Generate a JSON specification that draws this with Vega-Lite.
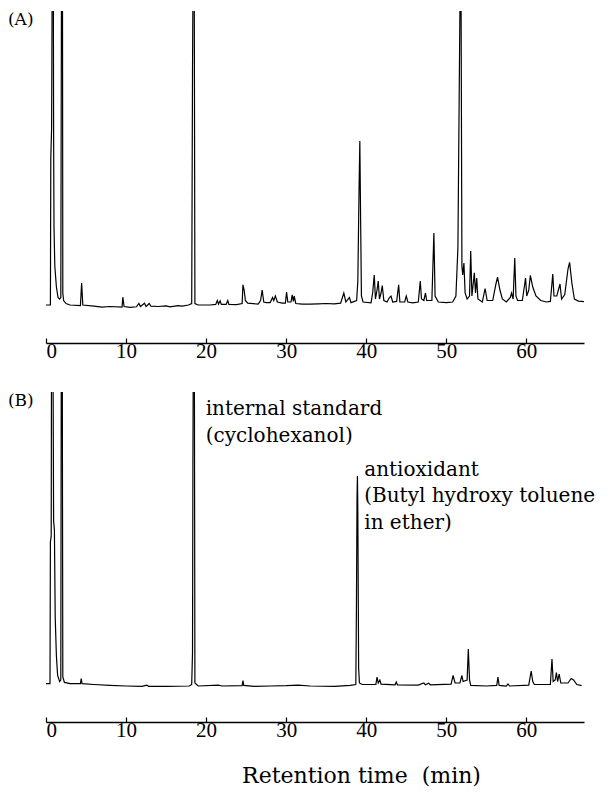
{
  "$schema": "https://vega.github.io/schema/vega-lite/v6.json",
  "padding": {"left": 7, "top": 11, "right": 5, "bottom": 5},
  "background": "white",
  "config": {"view": {"stroke": null}, "font": "Liberation Serif", "concat": {"spacing": 30}},
  "datasets": {
    "A": [
      {"t":0,"v":2},{"t":0.55,"v":2},{"t":0.6,"v":51},{"t":0.7,"v":61},{"t":0.8,"v":130},{"t":0.9,"v":130},{"t":0.95,"v":60},{"t":1.0,"v":28},{"t":1.1,"v":15},{"t":1.3,"v":8},{"t":1.5,"v":4.5},{"t":1.7,"v":4},{"t":1.85,"v":4.5},{"t":1.95,"v":130},{"t":2.05,"v":130},{"t":2.1,"v":6},{"t":2.2,"v":3.5},{"t":2.5,"v":2.5},{"t":3,"v":2},{"t":4.3,"v":1.8},{"t":4.45,"v":9.3},{"t":4.6,"v":2},{"t":6,"v":1.6},{"t":7,"v":1.3},{"t":8,"v":1.5},{"t":9.5,"v":1.3},{"t":9.6,"v":4.6},{"t":9.75,"v":1.5},{"t":10.5,"v":1.2},{"t":11.3,"v":1.4},{"t":11.6,"v":2.5},{"t":11.8,"v":1.5},{"t":12.3,"v":2.6},{"t":12.5,"v":1.5},{"t":12.9,"v":2.5},{"t":13.1,"v":1.6},{"t":14,"v":1.5},{"t":15,"v":1.7},{"t":15.5,"v":1.4},{"t":16.5,"v":1.8},{"t":17,"v":1.6},{"t":17.8,"v":2},{"t":18.2,"v":2.5},{"t":18.3,"v":79},{"t":18.4,"v":130},{"t":18.5,"v":130},{"t":18.6,"v":2.5},{"t":19,"v":2},{"t":20.5,"v":2},{"t":21.2,"v":2.2},{"t":21.4,"v":3.5},{"t":21.55,"v":2.3},{"t":21.75,"v":3.4},{"t":21.9,"v":2.2},{"t":22.5,"v":2.2},{"t":22.7,"v":3.5},{"t":22.85,"v":2.2},{"t":23.8,"v":2.1},{"t":24.5,"v":2.5},{"t":24.6,"v":8.7},{"t":24.75,"v":7},{"t":24.9,"v":3.5},{"t":25.2,"v":2.6},{"t":26.5,"v":2.3},{"t":26.8,"v":3.5},{"t":27.0,"v":7},{"t":27.2,"v":3},{"t":27.5,"v":2.8},{"t":28.0,"v":2.8},{"t":28.3,"v":4.5},{"t":28.45,"v":3.5},{"t":28.65,"v":5},{"t":28.9,"v":3},{"t":29.5,"v":2.6},{"t":29.9,"v":2.6},{"t":30.05,"v":6.3},{"t":30.2,"v":3},{"t":30.6,"v":3},{"t":30.75,"v":5.4},{"t":30.9,"v":3.2},{"t":31.0,"v":5},{"t":31.2,"v":2.5},{"t":32,"v":2.3},{"t":33,"v":2.3},{"t":34,"v":2.4},{"t":35,"v":2.5},{"t":36,"v":2.4},{"t":36.8,"v":2.6},{"t":37.2,"v":6},{"t":37.45,"v":3},{"t":37.9,"v":4.5},{"t":38.1,"v":2.8},{"t":38.8,"v":3.5},{"t":38.95,"v":10},{"t":39.1,"v":40},{"t":39.2,"v":56.7},{"t":39.3,"v":30},{"t":39.4,"v":5},{"t":39.6,"v":3},{"t":40.6,"v":2.7},{"t":40.8,"v":6},{"t":41.0,"v":12},{"t":41.15,"v":4},{"t":41.35,"v":7},{"t":41.5,"v":10},{"t":41.65,"v":4},{"t":41.85,"v":6},{"t":42.0,"v":8.5},{"t":42.2,"v":3.5},{"t":42.6,"v":3},{"t":42.9,"v":4.5},{"t":43.1,"v":5},{"t":43.3,"v":3},{"t":43.8,"v":3.2},{"t":44.05,"v":8.7},{"t":44.2,"v":3},{"t":44.8,"v":3},{"t":45.0,"v":5},{"t":45.2,"v":3},{"t":45.8,"v":2.7},{"t":46.5,"v":3},{"t":46.75,"v":10},{"t":46.9,"v":4},{"t":47.2,"v":3.5},{"t":47.4,"v":6},{"t":47.55,"v":3.5},{"t":48.2,"v":3.5},{"t":48.45,"v":26},{"t":48.6,"v":5},{"t":49,"v":3},{"t":50,"v":2.8},{"t":50.8,"v":3},{"t":51.2,"v":5},{"t":51.45,"v":21},{"t":51.7,"v":100},{"t":51.85,"v":100},{"t":51.95,"v":15},{"t":52.05,"v":12},{"t":52.2,"v":16},{"t":52.35,"v":6},{"t":52.6,"v":4},{"t":52.9,"v":5},{"t":53.05,"v":20},{"t":53.2,"v":5},{"t":53.4,"v":10},{"t":53.5,"v":12.7},{"t":53.65,"v":6},{"t":53.8,"v":11},{"t":53.95,"v":4},{"t":54.5,"v":3},{"t":54.85,"v":7.5},{"t":55.1,"v":3.5},{"t":55.8,"v":3.5},{"t":56.2,"v":9},{"t":56.4,"v":11.3},{"t":56.7,"v":7},{"t":57.0,"v":4},{"t":57.5,"v":3},{"t":58.0,"v":4.5},{"t":58.15,"v":6},{"t":58.35,"v":4},{"t":58.55,"v":17.7},{"t":58.7,"v":5},{"t":58.9,"v":3.5},{"t":59.5,"v":3.5},{"t":59.9,"v":11},{"t":60.05,"v":5},{"t":60.3,"v":7},{"t":60.5,"v":11.9},{"t":60.8,"v":8},{"t":61.2,"v":5},{"t":61.8,"v":3.5},{"t":62.5,"v":3},{"t":63.0,"v":3.2},{"t":63.3,"v":12.3},{"t":63.45,"v":5},{"t":63.8,"v":5},{"t":64.2,"v":9},{"t":64.4,"v":4},{"t":64.8,"v":5.5},{"t":65.2,"v":14},{"t":65.4,"v":16.2},{"t":65.7,"v":9},{"t":66.0,"v":4},{"t":66.5,"v":3.3},{"t":67.2,"v":3.1}
    ],
    "B": [
      {"t":0,"v":2.8},{"t":0.5,"v":2.8},{"t":0.55,"v":50},{"t":0.65,"v":52},{"t":0.7,"v":130},{"t":0.85,"v":130},{"t":0.95,"v":57},{"t":1.05,"v":54},{"t":1.15,"v":25},{"t":1.3,"v":12},{"t":1.45,"v":5.5},{"t":1.7,"v":3.5},{"t":1.85,"v":4},{"t":1.92,"v":130},{"t":2.02,"v":130},{"t":2.1,"v":5},{"t":2.3,"v":3.2},{"t":3,"v":2.8},{"t":4.3,"v":2.8},{"t":4.4,"v":4.5},{"t":4.5,"v":2.8},{"t":6,"v":2.5},{"t":8,"v":2.2},{"t":10,"v":2},{"t":12,"v":1.9},{"t":12.6,"v":2.3},{"t":12.8,"v":1.9},{"t":15,"v":1.9},{"t":17.9,"v":2},{"t":18.2,"v":2.5},{"t":18.3,"v":13},{"t":18.35,"v":75},{"t":18.42,"v":130},{"t":18.52,"v":130},{"t":18.6,"v":3},{"t":19,"v":2},{"t":21.5,"v":2.3},{"t":22,"v":2},{"t":24.5,"v":2.1},{"t":24.6,"v":3.8},{"t":24.7,"v":2.2},{"t":26,"v":1.9},{"t":28,"v":2},{"t":30,"v":2.1},{"t":31.5,"v":2.3},{"t":33,"v":2},{"t":36,"v":1.9},{"t":38.0,"v":2.2},{"t":38.7,"v":2.5},{"t":38.78,"v":30},{"t":38.85,"v":65},{"t":38.9,"v":72},{"t":38.95,"v":60},{"t":39.05,"v":8},{"t":39.15,"v":3},{"t":39.5,"v":2.5},{"t":41.2,"v":2.5},{"t":41.35,"v":5},{"t":41.5,"v":3},{"t":41.7,"v":4},{"t":41.85,"v":2.6},{"t":43.6,"v":2.4},{"t":43.75,"v":3.3},{"t":43.9,"v":2.4},{"t":46.5,"v":2.3},{"t":47.2,"v":3},{"t":47.4,"v":2.4},{"t":47.8,"v":2.9},{"t":48,"v":2.4},{"t":50.6,"v":2.6},{"t":50.85,"v":5.5},{"t":51.1,"v":3},{"t":51.7,"v":3},{"t":51.95,"v":5.5},{"t":52.1,"v":3.5},{"t":52.6,"v":4},{"t":52.75,"v":14.3},{"t":52.9,"v":4},{"t":53.05,"v":2.2},{"t":55,"v":2},{"t":56.3,"v":2.2},{"t":56.45,"v":5},{"t":56.6,"v":2.2},{"t":57.5,"v":2},{"t":57.7,"v":2.7},{"t":57.9,"v":2},{"t":60.3,"v":2.3},{"t":60.6,"v":7},{"t":60.8,"v":3.5},{"t":61,"v":2.5},{"t":63.0,"v":2.5},{"t":63.2,"v":11},{"t":63.35,"v":3.5},{"t":63.6,"v":4},{"t":63.75,"v":6.5},{"t":63.9,"v":3.5},{"t":64.1,"v":6},{"t":64.3,"v":3},{"t":65.2,"v":3},{"t":65.6,"v":4.5},{"t":65.9,"v":4},{"t":66.3,"v":2.5},{"t":66.9,"v":2.1}
    ],
    "tagA": [{"t": -4.75, "v": 99.6, "label": "(A)"}],
    "tagB": [{"t": -4.75, "v": 99.8, "label": "(B)"}],
    "notes": [
      {"t": 19.95, "v": 92.3, "label": "internal standard\n(cyclohexanol)"},
      {"t": 39.75, "v": 72.1, "label": "antioxidant\n(Butyl hydroxy toluene\nin ether)"}
    ]
  },
  "vconcat": [
    {
      "width": 538,
      "height": 300,
      "layer": [
        {
          "data": {"name": "A"},
          "mark": {"type": "line", "clip": true, "color": "black", "strokeWidth": 1.2},
          "encoding": {
            "x": {"field": "t", "type": "quantitative", "scale": {"domain": [0, 67.2], "nice": false, "zero": false},
              "axis": {"values": [0, 10, 20, 30, 40, 50, 60], "title": null, "offset": 32, "grid": false, "domainColor": "black", "domainWidth": 1.3, "tickColor": "black", "tickSize": -5, "tickWidth": 1.2, "labelFontSize": 21, "labelFont": "Liberation Serif", "labelColor": "black", "labelPadding": 2}},
            "y": {"field": "v", "type": "quantitative", "scale": {"domain": [0, 100], "nice": false, "zero": false}, "axis": null}
          }
        },
        {
          "data": {"name": "tagA"},
          "mark": {"type": "text", "align": "left", "baseline": "top", "font": "DejaVu Serif", "fontSize": 17, "color": "black"},
          "encoding": {
            "x": {"field": "t", "type": "quantitative", "scale": {"domain": [0, 67.2], "nice": false, "zero": false}},
            "y": {"field": "v", "type": "quantitative", "scale": {"domain": [0, 100], "nice": false, "zero": false}},
            "text": {"field": "label"}
          }
        }
      ]
    },
    {
      "width": 538,
      "height": 300,
      "layer": [
        {
          "data": {"name": "B"},
          "mark": {"type": "line", "clip": true, "color": "black", "strokeWidth": 1.2},
          "encoding": {
            "x": {"field": "t", "type": "quantitative", "scale": {"domain": [0, 67.2], "nice": false, "zero": false},
              "axis": {"values": [0, 10, 20, 30, 40, 50, 60], "title": "Retention time\u00a0 (min)", "titleX": 315, "titleAlign": "center", "titleFont": "DejaVu Serif", "titleFontSize": 22, "titleFontWeight": "normal", "titleColor": "black", "titlePadding": 25, "offset": 30, "grid": false, "domainColor": "black", "domainWidth": 1.3, "tickColor": "black", "tickSize": -5, "tickWidth": 1.2, "labelFontSize": 21, "labelFont": "Liberation Serif", "labelColor": "black", "labelPadding": 2}},
            "y": {"field": "v", "type": "quantitative", "scale": {"domain": [0, 100], "nice": false, "zero": false}, "axis": null}
          }
        },
        {
          "data": {"name": "tagB"},
          "mark": {"type": "text", "align": "left", "baseline": "top", "font": "DejaVu Serif", "fontSize": 17, "color": "black"},
          "encoding": {
            "x": {"field": "t", "type": "quantitative", "scale": {"domain": [0, 67.2], "nice": false, "zero": false}},
            "y": {"field": "v", "type": "quantitative", "scale": {"domain": [0, 100], "nice": false, "zero": false}},
            "text": {"field": "label"}
          }
        },
        {
          "data": {"name": "notes"},
          "mark": {"type": "text", "align": "left", "baseline": "alphabetic", "font": "DejaVu Serif", "fontSize": 20, "lineBreak": "\n", "lineHeight": 26.5, "color": "black"},
          "encoding": {
            "x": {"field": "t", "type": "quantitative", "scale": {"domain": [0, 67.2], "nice": false, "zero": false}},
            "y": {"field": "v", "type": "quantitative", "scale": {"domain": [0, 100], "nice": false, "zero": false}},
            "text": {"field": "label"}
          }
        }
      ]
    }
  ]
}
